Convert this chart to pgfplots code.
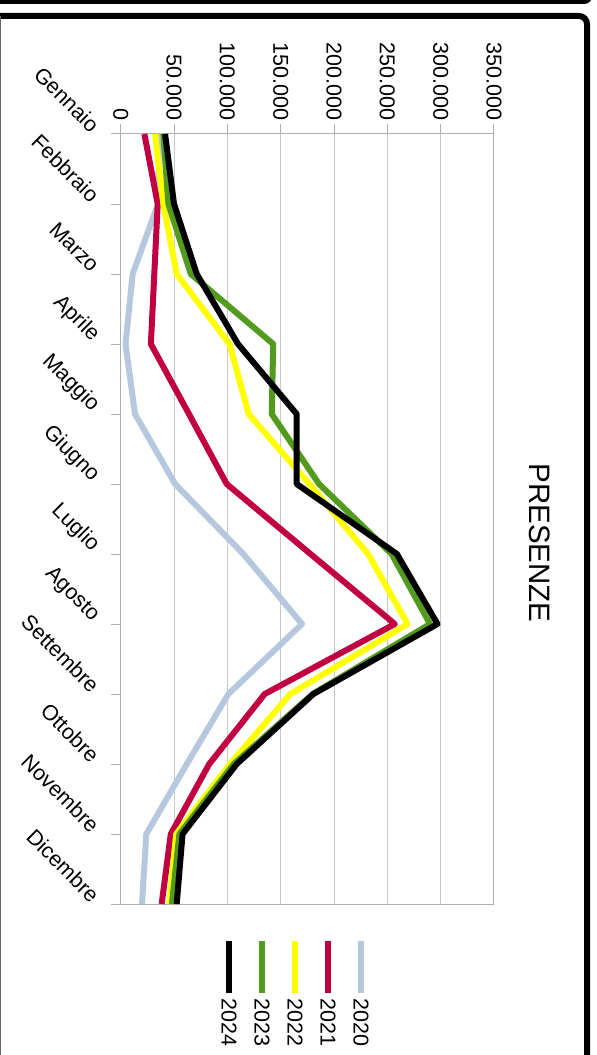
\documentclass[border=0pt]{standalone}
\usepackage{fontspec}
\setmainfont{Liberation Sans}
\usepackage{pgfplots}
\pgfplotsset{compat=1.18}
\definecolor{c2020}{RGB}{182,200,222}
\definecolor{c2021}{RGB}{192,0,66}
\definecolor{c2022}{RGB}{255,255,0}
\definecolor{c2023}{RGB}{82,155,30}
\definecolor{c2024}{RGB}{0,0,0}
\definecolor{gridc}{RGB}{200,200,200}
\definecolor{axc}{RGB}{175,175,175}
\begin{document}
\begin{tikzpicture}[x=1pt,y=1pt]
\path[use as bounding box] (0,0) rectangle (597,1055);
% frames
\draw[line width=5pt, rounded corners=6pt] (-10,1053.5) -- (590,1053.5) -- (590,1075);
\draw[line width=6pt, rounded corners=8pt] (-10,1039) -- (587,1039) -- (587,-20);
\draw[black!60, line width=1.2pt] (0.6,1039) -- (0.6,-20);
\begin{axis}[
  at={(120.7pt,151pt)}, anchor=south west,
  scale only axis, width=373.3pt, height=770pt,
  xmin=0, xmax=350000, ymin=0, ymax=11, y dir=reverse,
  axis line style={axc, line width=1pt},
  xtick={0,50000,100000,150000,200000,250000,300000,350000},
  xticklabels={0,50.000,100.000,150.000,200.000,250.000,300.000,350.000},
  scaled x ticks=false,
  xticklabel pos=right, xtick pos=right,
  ytick={0,1,2,3,4,5,6,7,8,9,10,11},
  yticklabels={Gennaio,Febbraio,Marzo,Aprile,Maggio,Giugno,Luglio,Agosto,Settembre,Ottobre,Novembre,Dicembre},
  ytick pos=left,
  tick align=outside, major tick length=9.5pt,
  tick style={axc, line width=1pt},
  xmajorgrids, major grid style={gridc, line width=1pt},
  xticklabel style={rotate=-90, anchor=east, inner sep=4pt, font=\fontsize{21.5}{24}\selectfont},
  yticklabel style={rotate=-45, anchor=east, xshift=-13pt, yshift=-7pt, inner sep=2pt, font=\fontsize{21.5}{24}\selectfont},
  every axis plot/.append style={line width=6pt, line join=round, no markers},
]
\addplot[c2020] coordinates {(36000,0) (35000,1) (11200,2) (4500,3) (13400,4) (51000,5) (115000,6) (170000,7) (101000,8) (62000,9) (24000,10) (20000,11)};
\addplot[c2021] coordinates {(22200,0) (34700,1) (31500,2) (28300,3) (64000,4) (99400,5) (178000,6) (257000,7) (135000,8) (83000,9) (47000,10) (38400,11)};
\addplot[c2022] coordinates {(32200,0) (40000,1) (52500,2) (102000,3) (120000,4) (177000,5) (232000,6) (269000,7) (159000,8) (102500,9) (52000,10) (45600,11)};
\addplot[c2023] coordinates {(40000,0) (44700,1) (65700,2) (143000,3) (141600,4) (186000,5) (254000,6) (290000,7) (180000,8) (106000,9) (55000,10) (48000,11)};
\addplot[c2024] coordinates {(41600,0) (50000,1) (71300,2) (110000,3) (165000,4) (165000,5) (259000,6) (297000,7) (180700,8) (108800,9) (58000,10) (52500,11)};
\end{axis}
\node[rotate=-90, font=\fontsize{29.5}{32}\selectfont] at (540,512) {PRESENZE};
\foreach \xx/\c/\t in {229/c2024/2024, 262/c2023/2023, 295/c2022/2022, 328/c2021/2021, 361/c2020/2020} {
  \draw[\c, line width=6pt] (\xx,114) -- (\xx,62);
  \node[rotate=-90, anchor=west, inner sep=5pt, font=\fontsize{21.5}{24}\selectfont] at (\xx,62) {\t};
}
\end{tikzpicture}
\end{document}
